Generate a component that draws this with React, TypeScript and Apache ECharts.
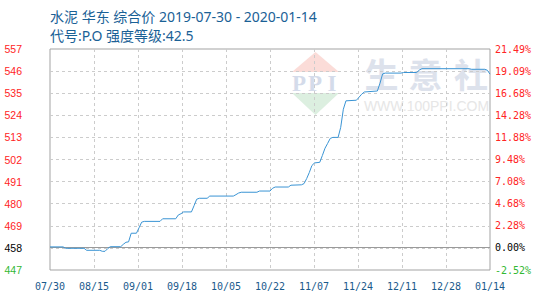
import React, { useEffect, useRef } from "react";
import * as echarts from "echarts";

const START_DATE = "2019-07-30";
const BASE_PRICE = 458.5;
const Y_MIN = 447;
const Y_STEP = 11;
const Y_STEPS = 10;
const X_DAYS = 168;

const priceDates = [
  "2019-07-30", "2019-08-04", "2019-08-05", "2019-08-12", "2019-08-13", "2019-08-18", "2019-08-19",
  "2019-08-20", "2019-08-21", "2019-08-22", "2019-08-26", "2019-08-27", "2019-08-28", "2019-08-29",
  "2019-08-30", "2019-09-01", "2019-09-02", "2019-09-03", "2019-09-04", "2019-09-10", "2019-09-11",
  "2019-09-16", "2019-09-17", "2019-09-18", "2019-09-19", "2019-09-22", "2019-09-23", "2019-09-24",
  "2019-09-25", "2019-09-28", "2019-09-29", "2019-10-08", "2019-10-09", "2019-10-10", "2019-10-11",
  "2019-10-17", "2019-10-18", "2019-10-22", "2019-10-23", "2019-10-24", "2019-10-29", "2019-10-30",
  "2019-11-03", "2019-11-04", "2019-11-05", "2019-11-06", "2019-11-07", "2019-11-08", "2019-11-10",
  "2019-11-11", "2019-11-12", "2019-11-13", "2019-11-14", "2019-11-15", "2019-11-17", "2019-11-18",
  "2019-11-19", "2019-11-20", "2019-11-24", "2019-11-25", "2019-11-26", "2019-11-27", "2019-12-02",
  "2019-12-03", "2019-12-04", "2019-12-05", "2019-12-11", "2019-12-12", "2019-12-17", "2019-12-18",
  "2019-12-19", "2020-01-06", "2020-01-07", "2020-01-12", "2020-01-13", "2020-01-14",
];

const priceValues = [
  458.5, 458.5, 457.8, 457.8, 456.8, 456.8, 456.3,
  456.3, 457.6, 458.6, 458.6, 459.8, 460.8, 461.0,
  465.3, 465.3, 468.0, 470.8, 471.2, 471.2, 472.5,
  472.5, 474.4, 475.0, 475.9, 475.9, 479.0, 482.2,
  482.7, 482.7, 483.8, 483.8, 484.5, 485.3, 485.7,
  485.7, 486.3, 486.3, 487.7, 488.3, 488.3, 489.2,
  489.4, 490.0, 492.5, 495.5, 499.0, 500.3, 500.6,
  504.0, 507.6, 510.0, 512.5, 513.0, 513.0, 518.0,
  527.0, 531.2, 531.5, 533.0, 534.5, 535.6, 536.1,
  540.0, 544.6, 545.0, 545.0, 545.3, 545.3, 546.5,
  547.2, 547.2, 546.9, 546.9, 546.4, 544.5,
];

const xTickLabels = ["07/30", "08/15", "09/01", "09/18", "10/05", "10/22", "11/07", "11/24", "12/11", "12/28", "01/14"];
const leftTickLabels = ["447", "458", "469", "480", "491", "502", "513", "524", "535", "546", "557"];
const rightTickLabels = ["-2.52%", "0.00%", "2.28%", "4.68%", "7.08%", "9.48%", "11.88%", "14.28%", "16.68%", "19.09%", "21.49%"];

const TITLE_LINE_1 = "水泥 华东 综合价 2019-07-30 - 2020-01-14";
const TITLE_LINE_2 = "代号:P.O 强度等级:42.5";

const DAY_MS = 86400000;
const dayOffset = (iso: string) => (Date.parse(iso) - Date.parse(START_DATE)) / DAY_MS;

const RED = "#ff2424";
const GREEN = "#33b833";
const BLACK = "#000000";
const BLUE_TEXT = "#1a6196";

function tickRich(family: string, size: number) {
  return {
    r: { color: RED, fontFamily: family, fontSize: size },
    k: { color: BLACK, fontFamily: family, fontSize: size },
    g: { color: GREEN, fontFamily: family, fontSize: size },
  };
}

function styled(labels: string[], value: number) {
  const i = Math.round(value / Y_STEP);
  const key = i === 0 ? "g" : i === 1 ? "k" : "r";
  return `{${key}|${labels[i] ?? ""}}`;
}

export default function App() {
  const ref = useRef<HTMLDivElement>(null);

  useEffect(() => {
    if (!ref.current) return;
    const chart = echarts.init(ref.current, undefined, { renderer: "svg" });
    const seriesData = priceDates.map((d, i) => [dayOffset(d), priceValues[i] - Y_MIN]);
    const xInterval = X_DAYS / (xTickLabels.length - 1);
    const cjk = "'Noto Sans', 'Noto Sans CJK SC', sans-serif";
    const wm = "#dde2ec";
    const ppiFont = "bold 23px 'Liberation Serif', serif";

    chart.setOption({
      animation: false,
      backgroundColor: "#ffffff",
      title: [
        {
          text: TITLE_LINE_1,
          left: 50,
          top: 7,
          padding: 0,
          textStyle: { color: BLUE_TEXT, fontSize: 14, fontWeight: "normal", fontFamily: cjk, lineHeight: 18 },
        },
        {
          text: TITLE_LINE_2,
          left: 50,
          top: 26,
          padding: 0,
          textStyle: { color: BLUE_TEXT, fontSize: 14, fontWeight: "normal", fontFamily: cjk, lineHeight: 18 },
        },
      ],
      graphic: [
        { type: "polygon", z: -10, shape: { points: [[292, 72], [315.5, 52], [339, 72]] }, style: { fill: "#fbdcd8" } },
        { type: "polygon", z: -10, shape: { points: [[292, 93], [339, 93], [315.5, 115]] }, style: { fill: "#dcefe0" } },
        { type: "text", z: -10, x: 299, y: 83, style: { text: "P", fill: "#d4dbea", font: ppiFont, align: "center", verticalAlign: "middle" } },
        { type: "text", z: -10, x: 315, y: 83, style: { text: "P", fill: "#d4dbea", font: ppiFont, align: "center", verticalAlign: "middle" } },
        { type: "text", z: -10, x: 332, y: 83, style: { text: "I", fill: "#d4dbea", font: ppiFont, align: "center", verticalAlign: "middle" } },
        { type: "text", z: -10, x: 381.5, y: 73, style: { text: "生", fill: wm, font: "bold 34px 'Noto Sans CJK SC', sans-serif", align: "center", verticalAlign: "middle" } },
        { type: "text", z: -10, x: 425.5, y: 73, style: { text: "意", fill: wm, font: "bold 34px 'Noto Sans CJK SC', sans-serif", align: "center", verticalAlign: "middle" } },
        { type: "text", z: -10, x: 471, y: 73, style: { text: "社", fill: wm, font: "bold 34px 'Noto Sans CJK SC', sans-serif", align: "center", verticalAlign: "middle" } },
        { type: "text", z: -10, x: 426.5, y: 106, style: { text: "WWW.100PPI.COM", fill: "#e6e6e6", font: "14px 'Liberation Sans', sans-serif", align: "center", verticalAlign: "middle" } },
      ],
      grid: {
        left: 50,
        right: 50,
        top: 49,
        bottom: 30,
        show: true,
        borderColor: "#a3a3a3",
        borderWidth: 1,
        backgroundColor: "transparent",
      },
      xAxis: {
        type: "value",
        min: 0,
        max: X_DAYS,
        interval: xInterval,
        axisLine: { show: false },
        axisTick: { show: false },
        splitLine: { show: true, showMinLine: false, showMaxLine: false, lineStyle: { color: "#cccccc", type: [3, 3], width: 1 } },
        axisLabel: {
          margin: 11,
          color: "#1a5a8c",
          fontFamily: "'DejaVu Sans Mono', monospace",
          fontSize: 10,
          formatter: (v: number) => xTickLabels[Math.round(v / xInterval)] ?? "",
        },
      },
      yAxis: [
        {
          type: "value",
          min: 0,
          max: Y_STEP * Y_STEPS,
          interval: Y_STEP,
          position: "left",
          axisLine: { show: false },
          axisTick: { show: false },
          splitLine: { show: true, showMinLine: false, showMaxLine: false, lineStyle: { color: "#cccccc", type: [3, 3], width: 1 } },
          axisLabel: {
            margin: 28,
            formatter: (v: number) => styled(leftTickLabels, v),
            rich: tickRich("'Liberation Sans', Arial, sans-serif", 10.5),
          },
        },
        {
          type: "value",
          min: 0,
          max: Y_STEP * Y_STEPS,
          interval: Y_STEP,
          position: "right",
          axisLine: { show: false },
          axisTick: { show: false },
          splitLine: { show: false },
          axisLabel: {
            margin: 5,
            formatter: (v: number) => styled(rightTickLabels, v),
            rich: tickRich("'DejaVu Sans Mono', monospace", 10),
          },
        },
      ],
      series: [
        {
          type: "line",
          yAxisIndex: 0,
          data: seriesData,
          showSymbol: false,
          symbol: "none",
          lineStyle: { color: "#3a94d4", width: 1 },
          itemStyle: { color: "#3a94d4" },
          z: 3,
          markLine: {
            silent: true,
            symbol: "none",
            label: { show: false },
            lineStyle: { color: "#9a9a9a", type: "solid", width: 1 },
            data: [{ yAxis: BASE_PRICE - Y_MIN }],
            z: 2,
          },
        },
      ],
    });

    return () => chart.dispose();
  }, []);

  return (
    <div
      ref={ref}
      style={{ position: "fixed", left: 0, top: 0, width: 540, height: 300, background: "#fff" }}
    />
  );
}
